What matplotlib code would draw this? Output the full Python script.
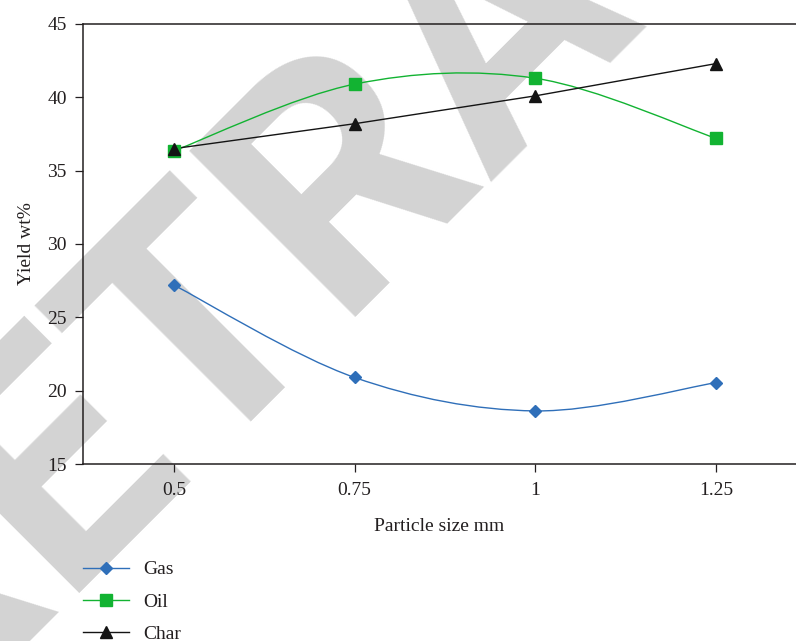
"""Product yield versus particle size (gas, oil, char)."""

import matplotlib

matplotlib.use("Agg")
import matplotlib.pyplot as plt
from matplotlib.path import Path
from matplotlib.patches import PathPatch

particle_size = [0.5, 0.75, 1.0, 1.25]
tick_labels = ["0.5", "0.75", "1", "1.25"]
gas = [27.2, 20.9, 18.62, 20.55]
oil = [36.35, 40.9, 41.3, 37.2]
char = [36.5, 38.2, 40.1, 42.3]

GAS_COLOR = "#2f6fb9"
OIL_COLOR = "#12b332"
CHAR_COLOR = "#141414"
AXIS_COLOR = "#231f20"
FS = 14

plt.rcParams["font.family"] = ["Liberation Serif", "DejaVu Serif"]


def smooth_path(xs, ys):
    """Catmull-Rom style bezier through the points (like a smoothed line)."""
    pts = list(zip(xs, ys))
    verts = [pts[0]]
    codes = [Path.MOVETO]
    for i in range(len(pts) - 1):
        p0 = pts[max(i - 1, 0)]
        p1 = pts[i]
        p2 = pts[i + 1]
        p3 = pts[min(i + 2, len(pts) - 1)]
        c1 = (p1[0] + (p2[0] - p0[0]) / 6, p1[1] + (p2[1] - p0[1]) / 6)
        c2 = (p2[0] - (p3[0] - p1[0]) / 6, p2[1] - (p3[1] - p1[1]) / 6)
        verts += [c1, c2, p2]
        codes += [Path.CURVE4] * 3
    return Path(verts, codes)


def main() -> None:
    fig = plt.figure(figsize=(7.96, 6.41), dpi=100)
    fig.patch.set_facecolor("white")

    # big diagonal watermark behind the chart
    fig.text(-90 / 796, 1 - 742 / 641, "RETRACTED", rotation=45, rotation_mode="anchor",
             ha="left", va="baseline", fontsize=238, fontweight="bold",
             family="Roboto", color="#d3d3d3", zorder=-10)

    ax = fig.add_axes([0.1043, 0.2761, 0.8957, 0.6865])
    ax.patch.set_alpha(0)

    for ys, color in ((gas, GAS_COLOR), (oil, OIL_COLOR)):
        ax.add_patch(PathPatch(smooth_path(particle_size, ys), facecolor="none",
                               edgecolor=color, linewidth=1.0, zorder=2))
    ax.plot(particle_size, char, color=CHAR_COLOR, linewidth=1.0, zorder=2)

    ax.plot(particle_size, gas, linestyle="none", marker="D", markersize=6.6,
            color=GAS_COLOR, zorder=3)
    ax.plot(particle_size, oil, linestyle="none", marker="s", markersize=8.6,
            color=OIL_COLOR, zorder=3)
    ax.plot(particle_size, char, linestyle="none", marker="^", markersize=8.4,
            color=CHAR_COLOR, zorder=4)

    ax.set_xlim(0.3743, 1.3605)
    ax.set_ylim(15, 45)
    ax.set_xticks(particle_size)
    ax.set_xticklabels(tick_labels)
    ax.set_yticks(range(15, 46, 5))
    ax.tick_params(labelsize=FS, length=5.6, width=0.9, colors=AXIS_COLOR)
    ax.tick_params(axis="y", pad=6)
    ax.tick_params(axis="x", pad=7)
    ax.spines["right"].set_visible(False)
    for side in ("left", "bottom", "top"):
        ax.spines[side].set_linewidth(1.1)
        ax.spines[side].set_color(AXIS_COLOR)

    ax.set_xlabel("Particle size mm", fontsize=FS, labelpad=14, color=AXIS_COLOR)
    ax.set_ylabel("Yield wt%", fontsize=FS, labelpad=9, color=AXIS_COLOR)

    handles = [
        plt.Line2D([], [], color=GAS_COLOR, marker="D", markersize=6.6, linewidth=1.0),
        plt.Line2D([], [], color=OIL_COLOR, marker="s", markersize=8.6, linewidth=1.0),
        plt.Line2D([], [], color=CHAR_COLOR, marker="^", markersize=8.4, linewidth=1.0),
    ]
    leg = fig.legend(handles, ["Gas", "Oil", "Char"], loc="upper left",
                     bbox_to_anchor=(0.104, 0.125), frameon=False, fontsize=FS,
                     handlelength=2.4, handletextpad=0.7, labelspacing=0.76,
                     borderpad=0, borderaxespad=0)
    for text in leg.get_texts():
        text.set_color(AXIS_COLOR)

    fig.savefig("out.png", dpi=100)
    plt.close(fig)


if __name__ == "__main__":
    main()
